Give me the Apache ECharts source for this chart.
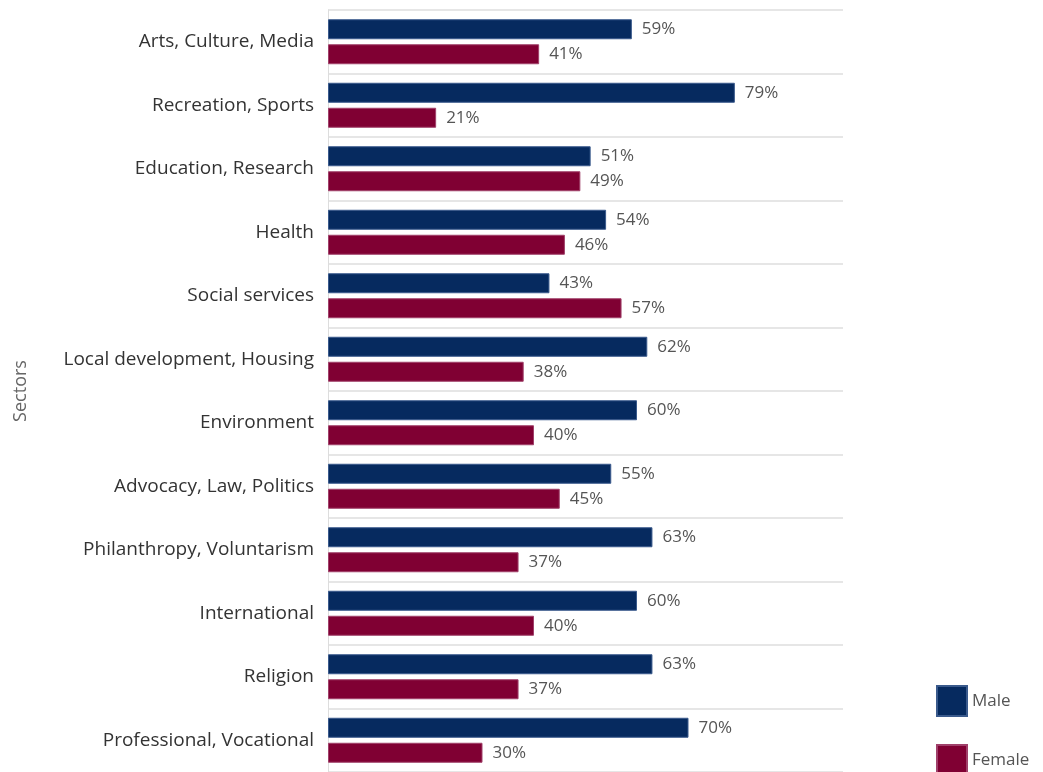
<!DOCTYPE html>
<html>
<head>
<meta charset="utf-8">
<script src="https://cdn.jsdelivr.net/npm/echarts@6/dist/echarts.min.js"></script>
<style>
  html, body { margin: 0; padding: 0; background: #fff; }
  #chart { width: 1043px; height: 772px; }
</style>
</head>
<body>
<div id="chart"></div>
<script>
// Sector names, top to bottom
const sectors = [
  'Arts, Culture, Media',
  'Recreation, Sports',
  'Education, Research',
  'Health',
  'Social services',
  'Local development, Housing',
  'Environment',
  'Advocacy, Law, Politics',
  'Philanthropy, Voluntarism',
  'International',
  'Religion',
  'Professional, Vocational'
];

// Share of male and female (%) per sector
const maleShare   = [59, 79, 51, 54, 43, 62, 60, 55, 63, 60, 63, 70];
const femaleShare = [41, 21, 49, 46, 57, 38, 40, 45, 37, 40, 37, 30];

const FONT = '"Open Sans", "Noto Sans", sans-serif';

const chart = echarts.init(document.getElementById('chart'));

function barSeries(name, data, color, border) {
  return {
    name: name,
    type: 'bar',
    data: data,
    barWidth: 20,
    barGap: '25%',
    itemStyle: { color: color, borderColor: border, borderWidth: 1 },
    label: {
      show: true,
      position: 'right',
      distance: 10,
      formatter: '{c}%',
      color: '#555',
      fontFamily: FONT,
      fontSize: 17
    },
    emphasis: { disabled: true }
  };
}

chart.setOption({
  animation: false,
  textStyle: { fontFamily: FONT },
  grid: { left: 328, top: 10, width: 515, height: 762, containLabel: false },
  legend: {
    orient: 'vertical',
    left: 936,
    top: 685,
    height: 120,
    padding: 0,
    itemWidth: 30,
    itemHeight: 30,
    itemGap: 27,
    icon: 'rect',
    textStyle: { color: '#555', fontSize: 17, fontFamily: FONT },
    data: ['Male', 'Female']
  },
  xAxis: {
    type: 'value',
    min: 0,
    max: 100,
    show: false
  },
  yAxis: {
    type: 'category',
    data: sectors,
    inverse: true,
    name: 'Sectors',
    nameLocation: 'middle',
    nameGap: 298,
    nameRotate: 90,
    nameTextStyle: { color: '#666', fontSize: 18, fontFamily: FONT },
    axisLine: { show: true, lineStyle: { color: '#ddd', width: 1 } },
    axisTick: { show: false },
    axisLabel: { color: '#333', fontSize: 19, fontFamily: FONT, margin: 14 },
    splitLine: { show: true, lineStyle: { color: '#e6e6e6', width: 2 } }
  },
  series: [
    barSeries('Male', maleShare, '#062a5f', '#3a5a8c'),
    barSeries('Female', femaleShare, '#800033', '#a0406a')
  ]
});
</script>
</body>
</html>
